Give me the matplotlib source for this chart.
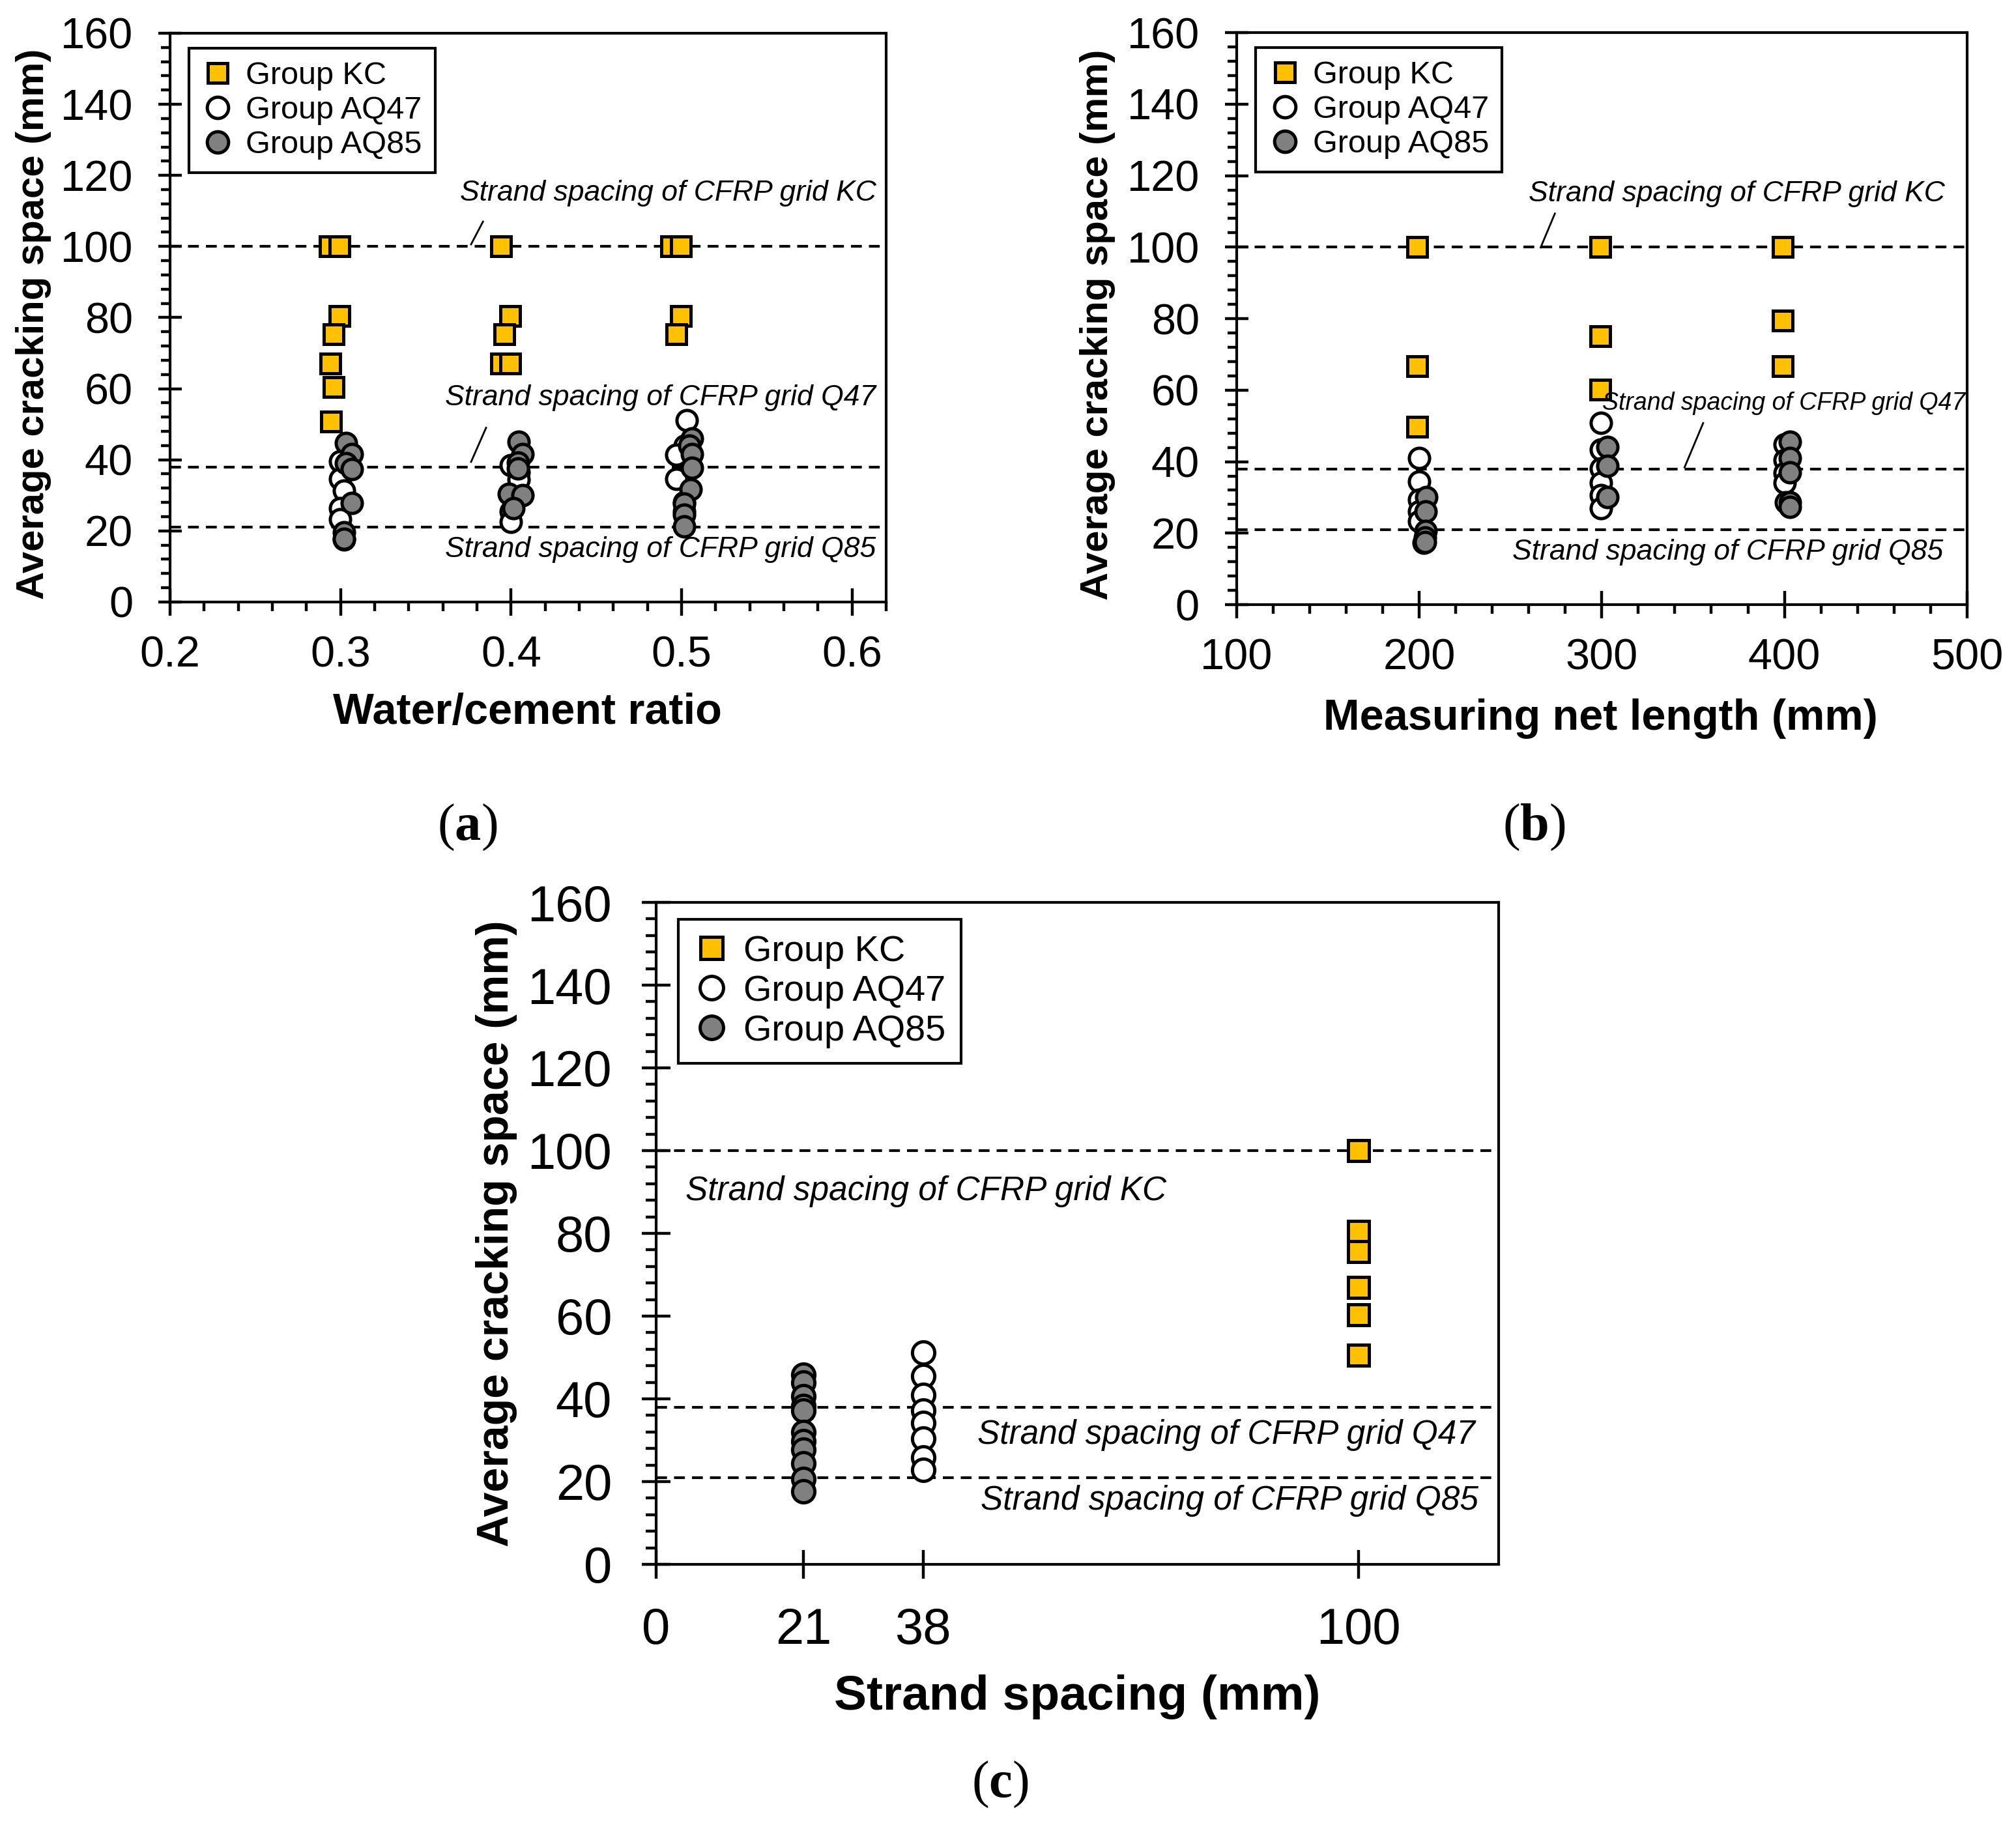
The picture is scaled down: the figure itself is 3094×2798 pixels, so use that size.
import numpy as np
import matplotlib.pyplot as plt
from matplotlib.ticker import MultipleLocator, FixedLocator

plt.rcParams['font.family'] = ['Liberation Sans', 'DejaVu Sans']
plt.rcParams['mathtext.fontset'] = 'custom'
plt.rcParams['mathtext.rm'] = 'Liberation Serif'
plt.rcParams['mathtext.bf'] = 'Liberation Serif:bold'

# ---- data: (a) water/cement ratio ----
wc_kc_x = [0.2935, 0.2995, 0.2995, 0.296, 0.294, 0.296, 0.2945,
           0.394, 0.3995, 0.396, 0.394, 0.3995,
           0.494, 0.4995, 0.4995, 0.497]
wc_kc_y = [100, 100, 80.5, 75.3, 67, 60.5, 50.8,
           100, 80.5, 75.3, 67, 67,
           100, 100, 80.5, 75.3]
wc_q47_x = [0.2998, 0.2998, 0.3018, 0.2998, 0.2998, 0.3018,
            0.400, 0.4045, 0.4045, 0.400, 0.400,
            0.5029, 0.502, 0.497, 0.497, 0.5016, 0.5016]
wc_q47_y = [39.6, 34.6, 31.3, 26.4, 23.2, 17.5,
            38.5, 36.5, 34.5, 25.5, 22.5,
            51.1, 44.0, 41.4, 34.6, 28.0, 25.5]
wc_q85_x = [0.3033, 0.3066, 0.3033, 0.3066, 0.3066, 0.3018, 0.3018,
            0.4045, 0.4068, 0.404, 0.404, 0.3988, 0.4068, 0.4014,
            0.506, 0.5045, 0.506, 0.506, 0.5054, 0.5016, 0.5016, 0.5016]
wc_q85_y = [44.7, 41.5, 39.1, 37.4, 27.9, 19.6, 17.8,
            45.0, 41.5, 39.2, 37.5, 30.4, 30.1, 26.4,
            45.9, 44.0, 41.6, 37.7, 31.6, 27.6, 24.6, 21.2]

# ---- data: (b) measuring net length ----
len_kc_x = [199, 199, 199, 299, 299, 299, 399, 399, 399]
len_kc_y = [100, 66.8, 49.7, 100, 75.1, 60.2, 100, 79.5, 66.8]
len_q47_x = [200, 200, 200, 200, 200, 202.5,
             299.5, 299.5, 299.5, 299.5, 299.5, 299.5,
             400, 400, 400, 400, 401]
len_q47_y = [41.0, 34.4, 29.4, 26.0, 23.4, 17.4,
             50.8, 43.4, 38.1, 34.1, 30.7, 27.0,
             44.8, 40.5, 36.8, 34.1, 28.7]
len_q85_x = [204, 203.5, 203.5, 203, 203,
             303, 303, 303,
             403, 403, 403, 403, 403]
len_q85_y = [30.0, 26.0, 20.7, 18.7, 17.5,
             44.1, 38.8, 30.1,
             45.5, 41.0, 37.0, 28.7, 27.4]

# ---- data: (c) strand spacing ----
sp_kc_x = [100] * 6
sp_kc_y = [100, 80.5, 75.6, 67, 60.3, 50.5]
sp_q47_x = [38] * 8
sp_q47_y = [51.1, 45.5, 41.0, 37.2, 34.2, 30.4, 25.9, 22.9]
sp_q85_x = [21] * 11
sp_q85_y = [45.8, 44.0, 40.7, 38.3, 37.2, 31.9, 29.7, 27.7, 24.4, 20.6, 17.6]

grid_spacing = {'KC': 100, 'Q47': 38, 'Q85': 21}
series_names = ['Group KC', 'Group AQ47', 'Group AQ85']

fig = plt.figure(figsize=(15.47, 13.99), dpi=200)
ax_a = fig.add_axes([0.0844, 0.6698, 0.3552, 0.3120])
ax_b = fig.add_axes([0.6134, 0.6683, 0.3623, 0.3138])
ax_c = fig.add_axes([0.3255, 0.1419, 0.4179, 0.3631])


def draw(ax, kc, q47, q85, scale):
    ax.plot(*kc, ls='none', marker='s', ms=10.5 * scale, mfc='#FFC000',
            mec='black', mew=1.8, label=series_names[0], zorder=3)
    ax.plot(*q47, ls='none', marker='o', ms=11.2 * scale, mfc='white',
            mec='black', mew=1.8, label=series_names[1], zorder=4)
    ax.plot(*q85, ls='none', marker='o', ms=11.2 * scale, mfc='#808080',
            mec='black', mew=1.8, label=series_names[2], zorder=5)
    for v in grid_spacing.values():
        ax.axhline(v, color='black', lw=1.5, ls=(0, (4, 2.6)), zorder=2)


def style(ax, scale, xlen, ylen, xpad, ypad, fs):
    for s in ax.spines.values():
        s.set_linewidth(1.5)
    ax.set_ylim(0, 160)
    ax.yaxis.set_major_locator(MultipleLocator(20))
    ax.yaxis.set_minor_locator(MultipleLocator(4))
    ax.tick_params(axis='y', which='major', direction='inout', length=ylen,
                   width=1.6, labelsize=fs, pad=ypad)
    ax.tick_params(axis='x', which='major', direction='inout', length=xlen,
                   width=1.6, labelsize=fs, pad=xpad)
    ax.tick_params(which='minor', direction='out', length=5 * scale, width=1.6)
    leg = ax.legend(loc='upper left', bbox_to_anchor=(0.026, 0.974),
                    borderaxespad=0, fancybox=False, edgecolor='black',
                    framealpha=1, fontsize=17.5 * scale, labelspacing=0.16,
                    handlelength=1.0, handletextpad=0.38, borderpad=0.42,
                    markerscale=1.05)
    leg.get_frame().set_linewidth(1.5)


# (a)
draw(ax_a, (wc_kc_x, wc_kc_y), (wc_q47_x, wc_q47_y), (wc_q85_x, wc_q85_y), 1.0)
ax_a.set_xlim(0.2, 0.62)
ax_a.xaxis.set_major_locator(FixedLocator([0.2, 0.3, 0.4, 0.5, 0.6]))
ax_a.xaxis.set_minor_locator(MultipleLocator(0.02))
ax_a.set_xticklabels(['0.2', '0.3', '0.4', '0.5', '0.6'])
style(ax_a, 1.0, 15, 13, 11, 14, 24)
ax_a.set_xlabel('Water/cement ratio', fontsize=24, fontweight='bold')
ax_a.xaxis.set_label_coords(0.4986, -0.195)
ax_a.xaxis.label.set_va('center')
ax_a.set_ylabel('Average cracking space (mm)', fontsize=21.5, fontweight='bold', va='center')
ax_a.yaxis.set_label_coords(-0.191, 0.489)
ann = dict(fontsize=16, style='italic', ha='right', va='center')
ax_a.text(0.614, 115, 'Strand spacing of CFRP grid KC', **ann)
ax_a.text(0.614, 57.5, 'Strand spacing of CFRP grid Q47', **ann)
ax_a.text(0.614, 14.8, 'Strand spacing of CFRP grid Q85', **ann)
ax_a.plot([0.3765, 0.3835], [100.6, 107], color='black', lw=1.0)
ax_a.plot([0.3765, 0.3853], [39.4, 49], color='black', lw=1.0)

# (b)
draw(ax_b, (len_kc_x, len_kc_y), (len_q47_x, len_q47_y), (len_q85_x, len_q85_y), 1.0)
ax_b.set_xlim(100, 500)
ax_b.xaxis.set_major_locator(MultipleLocator(100))
ax_b.xaxis.set_minor_locator(MultipleLocator(20))
style(ax_b, 1.0, 15, 13, 11, 14, 24)
ax_b.set_xlabel('Measuring net length (mm)', fontsize=24, fontweight='bold')
ax_b.xaxis.set_label_coords(0.498, -0.199)
ax_b.xaxis.label.set_va('center')
ax_b.set_ylabel('Average cracking space (mm)', fontsize=21.5, fontweight='bold', va='center')
ax_b.yaxis.set_label_coords(-0.190, 0.489)
ax_b.text(488, 115, 'Strand spacing of CFRP grid KC', **ann)
ax_b.text(499, 56.4, 'Strand spacing of CFRP grid Q47', fontsize=13.5,
          style='italic', ha='right', va='center')
ax_b.text(487, 14.7, 'Strand spacing of CFRP grid Q85', **ann)
ax_b.plot([266.5, 274.3], [99.9, 109.4], color='black', lw=1.0)
ax_b.plot([345.3, 355.5], [38.4, 50.8], color='black', lw=1.0)

# (c)
draw(ax_c, (sp_kc_x, sp_kc_y), (sp_q47_x, sp_q47_y), (sp_q85_x, sp_q85_y), 1.1)
ax_c.set_xlim(0, 120)
ax_c.xaxis.set_major_locator(FixedLocator([0, 21, 38, 100]))
style(ax_c, 1.15, 16, 16, 15.5, 16.5, 28)
ax_c.set_xlabel('Strand spacing (mm)', fontsize=27, fontweight='bold')
ax_c.xaxis.set_label_coords(0.4996, -0.2)
ax_c.xaxis.label.set_va('center')
ax_c.set_ylabel('Average cracking space (mm)', fontsize=24.5, fontweight='bold', va='center')
ax_c.yaxis.set_label_coords(-0.1895, 0.5)
annc = dict(fontsize=18.5, style='italic', ha='left', va='center')
ax_c.text(4.2, 90.2, 'Strand spacing of CFRP grid KC', **annc)
ax_c.text(45.7, 31.2, 'Strand spacing of CFRP grid Q47', **annc)
ax_c.text(46.2, 15.4, 'Strand spacing of CFRP grid Q85', **annc)

# panel letters
for x, y, s in [(0.2319, 0.5463, 'a'), (0.7608, 0.5463, 'b'), (0.4961, 0.0211, 'c')]:
    fig.text(x, y, '($\\mathbf{%s}$)' % s, fontsize=29, family='Liberation Serif',
             ha='center', va='center')

fig.savefig('out.png', dpi=200)
